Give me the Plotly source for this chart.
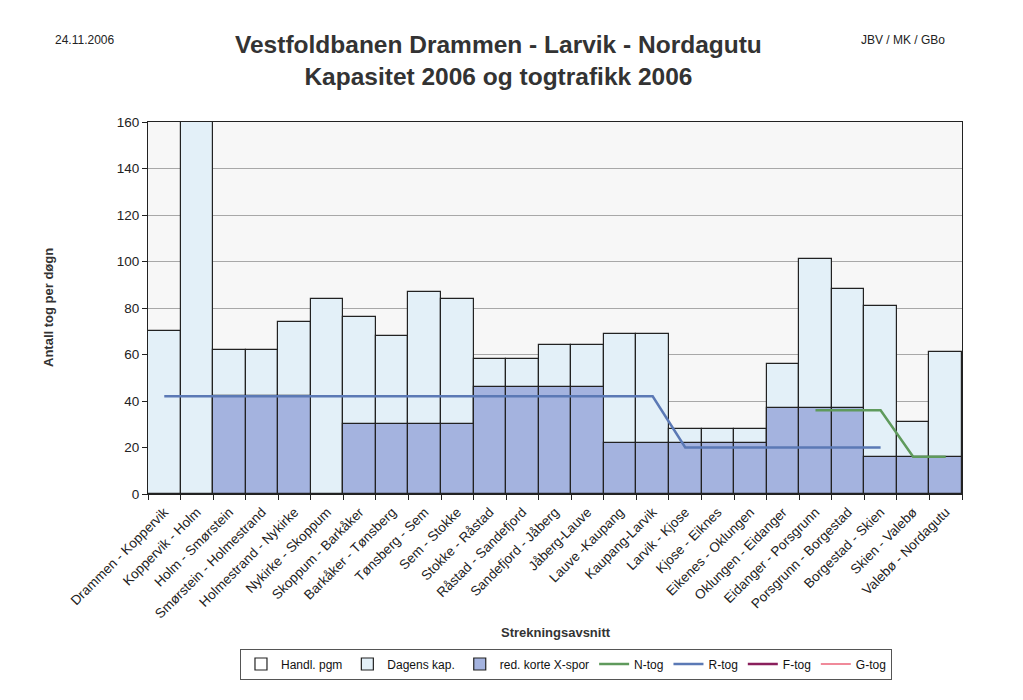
import plotly.graph_objects as go

categories = [
    "Drammen - Koppervik", "Koppervik - Holm", "Holm - Smørstein",
    "Smørstein - Holmestrand", "Holmestrand - Nykirke", "Nykirke - Skoppum",
    "Skoppum - Barkåker", "Barkåker - Tønsberg", "Tønsberg - Sem",
    "Sem - Stokke", "Stokke - Råstad", "Råstad - Sandefjord",
    "Sandefjord - Jåberg", "Jåberg-Lauve", "Lauve -Kaupang", "Kaupang-Larvik",
    "Larvik - Kjose", "Kjose - Eiknes", "Eikenes - Oklungen",
    "Oklungen - Eidanger", "Eidanger - Porsgrunn", "Porsgrunn - Borgestad",
    "Borgestad - Skien", "Skien - Valebø", "Valebø - Nordagutu",
]

handl_pgm = [None] * 25
dagens_kap = [70, 160, 62, 62, 74, 84, 76, 68, 87, 84, 58, 58, 64, 64, 69, 69,
              28, 28, 28, 56, 101, 88, 81, 31, 61]
red_korte = [None, None, 42, 42, 42, None, 30, 30, 30, 30, 46, 46, 46, 46, 22, 22,
             22, 22, 22, 37, 37, 37, 16, 16, 16]
n_tog = [None] * 20 + [36, 36, 36, 16, 16]
r_tog = [42] * 16 + [20] * 7 + [None, None]
f_tog = [None] * 25
g_tog = [None] * 25

FONT = "Liberation Sans, Arial, sans-serif"

fig = go.Figure()
fig.add_trace(go.Bar(x=categories, y=handl_pgm, name="Handl. pgm",
                     marker=dict(color="#ffffff", line=dict(color="#222222", width=1.2)),
                     width=1))
fig.add_trace(go.Bar(x=categories, y=dagens_kap, name="Dagens kap.",
                     marker=dict(color="#e3f0f8", line=dict(color="#222222", width=1.2)),
                     width=1))
fig.add_trace(go.Bar(x=categories, y=red_korte, name="red. korte X-spor",
                     marker=dict(color="#a4b3df", line=dict(color="#222222", width=1.2)),
                     width=1))
fig.add_trace(go.Scatter(x=categories, y=n_tog, name="N-tog", mode="lines",
                         line=dict(color="#5f9a5c", width=2.5)))
fig.add_trace(go.Scatter(x=categories, y=r_tog, name="R-tog", mode="lines",
                         line=dict(color="#5b79b5", width=2.5)))
fig.add_trace(go.Scatter(x=categories, y=f_tog, name="F-tog", mode="lines",
                         line=dict(color="#8a1f5c", width=2.5)))
fig.add_trace(go.Scatter(x=categories, y=g_tog, name="G-tog", mode="lines",
                         line=dict(color="#f08a9a", width=2)))

fig.update_layout(
    width=1015, height=692,
    margin=dict(l=140, r=61, t=114, b=206),
    paper_bgcolor="#ffffff", plot_bgcolor="#f7f7f7",
    barmode="overlay", bargap=0,
    font=dict(family=FONT, size=12, color="#111111"),
    showlegend=True,
    legend=dict(orientation="h", x=0.113, xanchor="left", y=-0.457, yanchor="middle",
                bordercolor="#555555", borderwidth=1, bgcolor="#ffffff",
                font=dict(size=12, family=FONT), itemwidth=30, tracegroupgap=0),
    xaxis=dict(type="category", tickson="boundaries", ticks="outside", ticklen=5,
               tickcolor="#222222", tickangle=-45, showgrid=False,
               showline=True, linecolor="#222222", linewidth=1, mirror=True,
               ticklabelstandoff=4,
               tickfont=dict(size=13.5, family=FONT, color="#222222")),
    yaxis=dict(range=[0, 160], dtick=20, ticks="outside", ticklen=5,
               tickcolor="#222222", showgrid=True, gridcolor="#a8a8a8", gridwidth=1,
               showline=True, linecolor="#222222", linewidth=1, mirror=True,
               zeroline=False, tickfont=dict(size=13.5, family=FONT, color="#222222")),
    annotations=[
        dict(text="<b>Vestfoldbanen Drammen - Larvik - Nordagutu</b><br><b>Kapasitet 2006 og togtrafikk 2006</b>",
             xref="paper", yref="paper", x=(498 - 148) / 814, y=(122 - 61) / 372 + 1,
             xanchor="center", yanchor="middle", showarrow=False,
             font=dict(size=24.5, family=FONT, color="#333333")),
        dict(text="24.11.2006", xref="paper", yref="paper",
             x=(84 - 148) / 814, y=(494 - 40) / 372, xanchor="center", yanchor="middle",
             showarrow=False, font=dict(size=12, family=FONT, color="#222222")),
        dict(text="JBV / MK / GBo", xref="paper", yref="paper",
             x=(903 - 148) / 814, y=(494 - 40) / 372, xanchor="center", yanchor="middle",
             showarrow=False, font=dict(size=12, family=FONT, color="#222222")),
        dict(text="<b>Antall tog per døgn</b>", xref="paper", yref="paper",
             x=(48 - 148) / 814, y=0.5, xanchor="center", yanchor="middle",
             textangle=-90, showarrow=False, font=dict(size=13, family=FONT, color="#333333")),
        dict(text="<b>Strekningsavsnitt</b>", xref="paper", yref="paper",
             x=(556 - 148) / 814, y=-(632 - 494) / 372, xanchor="center", yanchor="middle",
             showarrow=False, font=dict(size=13, family=FONT, color="#333333")),
    ],
)

fig.write_html("out.html")
